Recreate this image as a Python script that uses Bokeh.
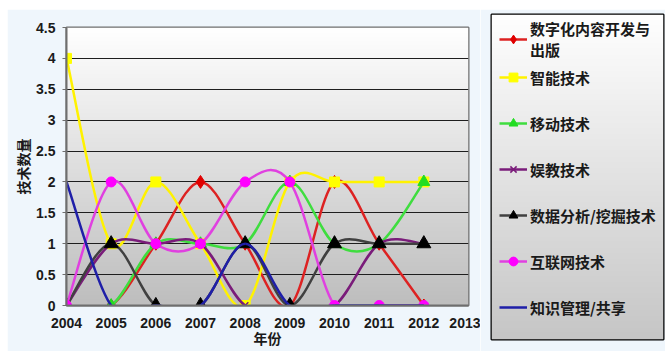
import numpy as np
from bokeh.plotting import figure
from bokeh.layouts import row, column
from bokeh.models import Legend, LegendItem, FixedTicker, Range1d
from bokeh.embed import file_html
from bokeh.resources import INLINE

# ---------------- data ----------------
years = [2004, 2005, 2006, 2007, 2008, 2009, 2010, 2011, 2012]
digital_content = [0, 0, 1, 2, 1, 0, 2, 1, 0]
smart_tech = [4, 1, 2, 1, 0, 2, 2, 2, 2]
mobile_tech = [0, 0, 1, 1, 1, 2, 1, 1, 2]
edutainment = [0, 1, 1, 1, 0, 0, 0, 1, 1]
data_mining = [0, 1, 0, 0, 1, 0, 1, 1, 1]
internet_tech = [0, 2, 1, 1, 2, 2, 0, 0, 0]
knowledge_mgmt = [2, 0, 0, 0, 1, 0, 0, 0, 0]

series_names = ["数字化内容开发与\n出版", "智能技术", "移动技术", "娱教技术",
                "数据分析/挖掘技术", "互联网技术", "知识管理/共享"]
x_ticks = [2004, 2005, 2006, 2007, 2008, 2009, 2010, 2011, 2012, 2013]
y_ticks = [0, 0.5, 1, 1.5, 2, 2.5, 3, 3.5, 4, 4.5]
x_title = "年份"
y_title = "技术数量"

series_values = [digital_content, smart_tech, mobile_tech, edutainment,
                 data_mining, internet_tech, knowledge_mgmt]

# ---------------- styles ----------------
line_colors = ["#DD2222", "#FFF200", "#3FDD3F", "#7A1C7A", "#404040", "#E040E0", "#1F1FA8"]
marker_types = ["diamond", "square", "triangle", "x", "triangle", "circle", None]
marker_colors = ["#E00000", "#FFFF00", "#22DD22", "#7A1C7A", "#000000", "#FF00FF", None]
marker_sizes = [13, 10, 12, 9, 14, 10, 0]
BG = "#EFF6FC"
OFF_X, OFF_Y = 7, 9            # white page strip left / top of the chart area
TOTAL_W, TOTAL_H = 665, 351
MAIN_RIGHT = 480               # page x where the legend panel starts
MAIN_W = MAIN_RIGHT - OFF_X
PANEL_H = TOTAL_H - OFF_Y


def gradient(top, bottom, nrows=200):
    shade = np.linspace(bottom, top, nrows).astype(np.uint32)
    img = np.zeros((nrows, 1), dtype=np.uint32)
    img[:, 0] = (255 << 24) | (shade << 16) | (shade << 8) | shade
    return img


def draw_series(fig):
    xs = np.array(years, dtype=float)
    out = []
    for vals, name, lc, mt, mc, ms in zip(series_values, series_names, line_colors,
                                          marker_types, marker_colors, marker_sizes):
        ys = np.array(vals, dtype=float)
        xp = np.concatenate([[xs[0]], xs, [xs[-1]]])
        yp = np.concatenate([[ys[0]], ys, [ys[-1]]])
        n = len(xs)
        x0, y0 = xs[:-1], ys[:-1]
        x1, y1 = xs[1:], ys[1:]
        cx0 = x0 + (xp[2:n + 1] - xp[0:n - 1]) / 6.0
        cy0 = y0 + (yp[2:n + 1] - yp[0:n - 1]) / 6.0
        cx1 = x1 - (xp[3:n + 2] - xp[1:n]) / 6.0
        cy1 = y1 - (yp[3:n + 2] - yp[1:n]) / 6.0
        bez = fig.bezier(x0=x0, y0=y0, x1=x1, y1=y1, cx0=cx0, cy0=cy0, cx1=cx1, cy1=cy1,
                         line_color=lc, line_width=2.5)
        rends = [bez]
        if mt is not None:
            if mt == "x":
                sc = fig.scatter(years, vals, marker=mt, size=ms, line_color=mc, line_width=1.5)
            else:
                sc = fig.scatter(years, vals, marker=mt, size=ms, fill_color=mc, line_color=mc)
            rends.append(sc)
        out.append((name, rends))
    return out


# ---------------- main chart ----------------
p = figure(width=MAIN_W, height=PANEL_H, output_backend="svg", toolbar_location=None,
           x_range=Range1d(2004, 2013), y_range=Range1d(0, 4.5),
           min_border_left=66 - OFF_X, min_border_right=MAIN_RIGHT - 468,
           min_border_top=27 - OFF_Y, min_border_bottom=TOTAL_H - 305)
p.border_fill_color = BG
p.outline_line_color = "#6E6E6E"
p.outline_line_width = 2
p.image_rgba(image=[gradient(255, 190)], x=2004, y=0, dw=9, dh=4.5, level="image")

p.xaxis.ticker = FixedTicker(ticks=x_ticks)
p.yaxis.ticker = FixedTicker(ticks=y_ticks)
p.yaxis.major_label_overrides = {t: ("%g" % t) for t in y_ticks}
for ax in (p.xaxis[0], p.yaxis[0]):
    ax.axis_line_color = "#6E6E6E"
    ax.axis_line_width = 2
    ax.major_label_text_font = "Liberation Sans"
    ax.major_label_text_font_style = "bold"
    ax.major_label_text_font_size = "14px"
    ax.major_label_text_color = "#1A1A1A"
    ax.minor_tick_line_color = None
    ax.axis_label_text_font = "Noto Sans CJK SC"
    ax.axis_label_text_font_style = "bold"
    ax.axis_label_text_font_size = "14px"
    ax.axis_label_text_color = "#1A1A1A"
p.xaxis.major_tick_line_color = None
p.xaxis.major_label_standoff = 6
p.xaxis.axis_label = x_title
p.xaxis.axis_label_standoff = -3
p.yaxis.major_tick_out = 4
p.yaxis.major_tick_in = 0
p.yaxis.major_tick_line_color = "#6E6E6E"
p.yaxis.major_label_standoff = 7
p.yaxis.axis_label = y_title
p.yaxis.axis_label_standoff = 0

p.xgrid.grid_line_color = None
p.ygrid.grid_line_color = "#1E1E1E"
p.ygrid.grid_line_width = 1
p.ygrid.level = "underlay"

draw_series(p)

# ---------------- legend panel ----------------
LEG_W = TOTAL_W - MAIN_RIGHT
FRAME_H = 339 - 14
q = figure(width=LEG_W, height=PANEL_H, output_backend="svg", toolbar_location=None,
           x_range=Range1d(0, 1), y_range=Range1d(0, 1),
           x_axis_type=None, y_axis_type=None,
           min_border_left=491 - MAIN_RIGHT, min_border_right=2,
           min_border_top=14 - OFF_Y, min_border_bottom=TOTAL_H - 339)
q.border_fill_color = BG
q.outline_line_color = "#000000"
q.outline_line_width = 2
q.xgrid.grid_line_color = None
q.ygrid.grid_line_color = None
q.image_rgba(image=[gradient(255, 198)], x=0, y=0, dw=1, dh=1, level="image")

# legend renderers carry the real series, but lie outside this panel's ranges
legend_entries = draw_series(q)
items = [LegendItem(label=name, renderers=rends) for name, rends in legend_entries]

common = dict(orientation="vertical", margin=0,
              glyph_width=28, glyph_height=22, label_height=22, label_standoff=3,
              label_text_font="Noto Sans CJK SC", label_text_font_style="bold",
              label_text_font_size="15px", label_text_color="#1A1A1A",
              border_line_alpha=0, background_fill_alpha=0)
legend_a = Legend(items=items[:1], location=(4, FRAME_H - 50), padding=4, spacing=0, **common)
legend_b = Legend(items=items[1:], location=(0, 13), padding=8, spacing=24, **common)
q.add_layout(legend_a, "center")
q.add_layout(legend_b, "center")

layout = row(p, column(q, spacing=0), spacing=0, margin=(OFF_Y, 0, 0, OFF_X))
open("out.html", "w").write(file_html(layout, INLINE))
